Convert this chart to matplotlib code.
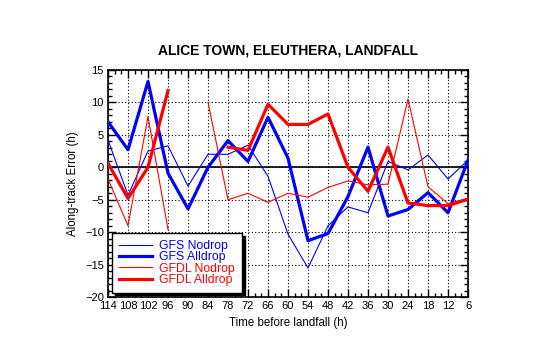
import numpy as np
import matplotlib
matplotlib.use('Agg')
import matplotlib.pyplot as plt
from matplotlib.ticker import MultipleLocator

plt.rcParams['font.family'] = ['Liberation Sans', 'DejaVu Sans']

# forecast lead times (h before landfall) and along-track errors (h)
hours = [114, 108, 102, 96, 90, 84, 78, 72, 66, 60, 54, 48, 42, 36, 30, 24, 18, 12, 6]
gfs_nodrop = [4.2, -4.3, 2.5, 3.3, -2.9, 2.0, 2.0, 3.4, -1.4, -10.3, -15.5, -9.0,
              -6.1, -7.0, 0.9, -0.4, 1.9, -1.8, 1.1]
gfs_alldrop = [7.0, 2.7, 13.2, -0.9, -6.4, 0.0, 4.1, 0.9, 7.7, 1.4, -11.3, -10.2,
               -4.5, 3.1, -7.5, -6.5, -3.9, -7.0, 1.1]
gfdl_nodrop = [-1.8, -9.0, 7.8, -9.6, np.nan, 10.0, -5.0, -4.0, -5.4, -4.0, -4.6,
               -3.1, -2.1, -2.7, -2.6, 10.5, -3.0, -5.6, -4.8]
gfdl_alldrop = [0.6, -4.8, 0.0, 11.8, np.nan, np.nan, 3.1, 2.6, 9.7, 6.6, 6.6, 8.2,
                0.0, -3.7, 3.1, -5.5, -5.9, -5.9, -4.9]

series = [
    ('GFS Nodrop', gfs_nodrop, '#0000ff', 0.8),
    ('GFS Alldrop', gfs_alldrop, '#0000ff', 2.3),
    ('GFDL Nodrop', gfdl_nodrop, '#ff0000', 0.8),
    ('GFDL Alldrop', gfdl_alldrop, '#ff0000', 2.3),
]

fig = plt.figure(figsize=(5.4, 3.44), dpi=100)
ax = fig.add_axes([0.2, 0.136, 0.6667, 0.661])

ax.axhline(0, color='black', linewidth=1.2, zorder=1)
for label, vals, color, lw in series:
    ax.plot(hours, vals, color=color, linewidth=lw, label=label, zorder=3)

ax.set_xlim(114, 6)
ax.set_ylim(-20, 15)
ax.set_xticks(hours)
ax.xaxis.set_minor_locator(MultipleLocator(2))
ax.yaxis.set_major_locator(MultipleLocator(5))
ax.yaxis.set_minor_locator(MultipleLocator(1))
ax.tick_params(which='both', direction='in', top=True, right=True, labelsize=8,
               width=1, color='black')
ax.tick_params(which='major', length=6, pad=3)
ax.tick_params(which='minor', length=3)
ax.grid(True, which='major', linestyle=(0, (1, 2)), color='black', linewidth=0.8)
for sp in ax.spines.values():
    sp.set_linewidth(1.2)

ax.set_title('ALICE TOWN, ELEUTHERA, LANDFALL', fontsize=10, fontweight='bold', pad=11)
ax.set_xlabel('Time before landfall (h)', fontsize=8.3, labelpad=4)
ax.set_ylabel('Along-track Error (h)', fontsize=8.3, labelpad=4)

leg = ax.legend(loc='lower left', bbox_to_anchor=(0.012, 0.02), borderaxespad=0,
                fontsize=8.8, labelcolor='linecolor', fancybox=False, framealpha=1,
                edgecolor='black', handlelength=2.7, handletextpad=0.6,
                labelspacing=-0.05, borderpad=0.55,
                shadow={'color': 'black', 'alpha': 1})
leg.get_frame().set_linewidth(1.0)
leg.set_zorder(5)

fig.savefig('out.png', dpi=100)
